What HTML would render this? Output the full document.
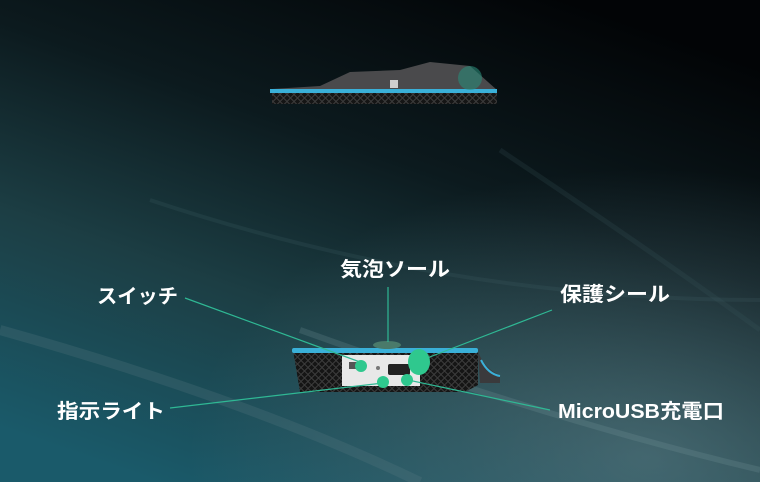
<!DOCTYPE html>
<html><head><meta charset="utf-8"><style>
html,body{margin:0;padding:0;width:760px;height:482px;overflow:hidden;background:#000}
svg{display:block}
text{font-family:"Liberation Sans","Noto Sans CJK JP",sans-serif;font-weight:bold;fill:#fff;font-size:20px}
</style></head><body>
<svg width="760" height="482" viewBox="0 0 760 482" xmlns="http://www.w3.org/2000/svg">
<defs>
<linearGradient id="bg" x1="0.75" y1="0" x2="0.2" y2="1">
<stop offset="0" stop-color="#020406"/>
<stop offset="0.35" stop-color="#0c1a1e"/>
<stop offset="0.65" stop-color="#1c3e44"/>
<stop offset="1" stop-color="#1a5a6a"/>
</linearGradient>
<radialGradient id="glow" cx="0.85" cy="0.95" r="0.6">
<stop offset="0" stop-color="#6a8c96" stop-opacity="0.5"/>
<stop offset="1" stop-color="#6a8c96" stop-opacity="0"/>
</radialGradient>
<pattern id="mesh" width="7" height="7" patternUnits="userSpaceOnUse">
<rect width="7" height="7" fill="#151515"/>
<path d="M3.5 0L7 3.5L3.5 7L0 3.5Z" fill="none" stroke="#3c3c3c" stroke-width="1"/>
</pattern>
</defs>
<rect width="760" height="482" fill="url(#bg)"/>
<rect width="760" height="482" fill="url(#glow)"/>
<path d="M0 330 Q250 400 420 482" stroke="#5b7c85" stroke-width="10" fill="none" opacity="0.25"/>
<path d="M150 200 Q450 300 760 300" stroke="#4a6a70" stroke-width="4" fill="none" opacity="0.18"/>
<path d="M300 330 Q550 420 760 470" stroke="#7a9aa0" stroke-width="6" fill="none" opacity="0.22"/>
<path d="M500 150 Q650 250 760 330" stroke="#3a5a60" stroke-width="5" fill="none" opacity="0.2"/>
<!-- top device -->
<path d="M272 89 L320 86 L350 72 L400 70 L430 62 L470 66 L497 90 L497 100 L272 100 Z" fill="#4a4a4c"/>
<rect x="272" y="92" width="225" height="12" fill="url(#mesh)"/>
<rect x="270" y="89" width="227" height="4" fill="#3ab0d8"/>
<rect x="390" y="80" width="8" height="8" fill="#cfcfcf"/>
<circle cx="470" cy="78" r="12" fill="#2a8a78" opacity="0.6"/>
<!-- bottom device -->
<path d="M293 350 L478 350 L478 385 L465 392 L300 392 Z" fill="url(#mesh)"/>
<path d="M478 352 Q486 370 500 375 L500 383 L480 383 Z" fill="#3a3a3c"/>
<path d="M481 360 Q488 374 500 376" stroke="#3ab0d8" stroke-width="2" fill="none"/>
<rect x="292" y="348" width="186" height="5" rx="2" fill="#3ab0d8"/>
<ellipse cx="387" cy="345" rx="14" ry="4" fill="#4a7a6a"/>
<rect x="342" y="355" width="78" height="31" fill="#e8e8e8"/>
<rect x="349" y="362" width="12" height="7" fill="#555"/>
<rect x="388" y="364" width="22" height="11" rx="2" fill="#222"/>
<circle cx="378" cy="368" r="2" fill="#777"/>
<!-- lines -->
<g stroke="#2fb894" stroke-width="1.2" fill="none">
<line x1="185" y1="298" x2="360" y2="362"/>
<line x1="388" y1="287" x2="388" y2="342"/>
<line x1="552" y1="310" x2="422" y2="360"/>
<line x1="170" y1="408" x2="383" y2="383"/>
<line x1="550" y1="410" x2="408" y2="380"/>
</g>
<g fill="#2fc88e">
<circle cx="361" cy="366" r="6"/>
<ellipse cx="419" cy="362" rx="11" ry="13"/>
<circle cx="383" cy="382" r="6"/>
<circle cx="407" cy="380" r="6"/>
</g>
<text x="97" y="303" textLength="81" lengthAdjust="spacingAndGlyphs">スイッチ</text>
<text x="340" y="276" textLength="110" lengthAdjust="spacingAndGlyphs">気泡ソール</text>
<text x="560" y="301" textLength="110" lengthAdjust="spacingAndGlyphs">保護シール</text>
<text x="57" y="418" textLength="108" lengthAdjust="spacingAndGlyphs">指示ライト</text>
<text x="558" y="418" textLength="166" lengthAdjust="spacingAndGlyphs">MicroUSB充電口</text>
</svg>
</body></html>
